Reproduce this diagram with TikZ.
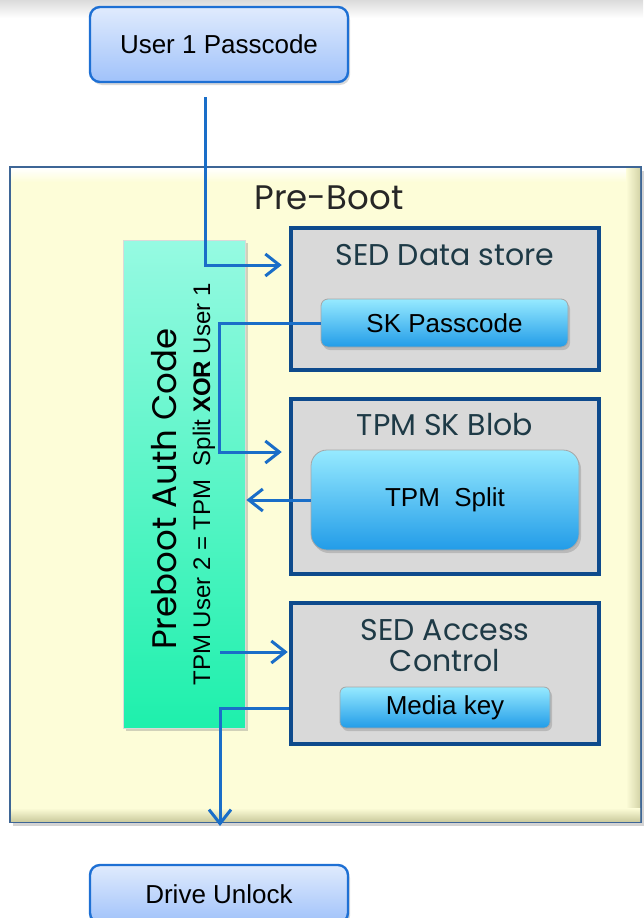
\documentclass[tikz,border=0pt]{standalone}
\usepackage{fontspec}
\setmainfont{Liberation Sans}
\newfontfamily\gothic{Poppins}
\usetikzlibrary{arrows.meta,shadows,calc}
\definecolor{arrowblue}{RGB}{26,110,200}
\definecolor{boxblue}{RGB}{14,74,140}
\definecolor{titlecol}{RGB}{30,58,70}
\definecolor{prebootbg}{RGB}{253,253,216}
\definecolor{prebootedge}{RGB}{62,102,150}
\definecolor{panelgray}{RGB}{217,217,217}
\definecolor{iotop}{RGB}{224,235,253}
\definecolor{iobot}{RGB}{160,194,250}
\definecolor{ioedge}{RGB}{30,112,212}
\definecolor{keytop}{RGB}{150,234,255}
\definecolor{keymid}{RGB}{80,196,248}
\definecolor{keybot}{RGB}{34,156,232}
\definecolor{bartop}{RGB}{150,250,226}
\definecolor{barbot}{RGB}{30,240,172}
\begin{document}
\begin{tikzpicture}[x=1pt,y=-1pt,
  iobox/.style={draw=ioedge, line width=2.4pt, rounded corners=10pt,
    top color=iotop, bottom color=iobot, inner sep=0pt,
    drop shadow={opacity=0.3,shadow xshift=2pt,shadow yshift=-3pt},
    font=\fontsize{26}{30}\selectfont},
  panel/.style={draw=boxblue, line width=4.5pt, fill=panelgray, inner sep=0pt},
  keybox/.style={draw=black!35, line width=0.8pt, top color=keytop, middle color=keymid,
    bottom color=keybot, inner sep=0pt,
    drop shadow={opacity=0.35,shadow xshift=2pt,shadow yshift=-3pt},
    font=\fontsize{26}{30}\selectfont},
  paneltitle/.style={text=titlecol, font=\gothic\fontsize{30}{34}\selectfont, inner sep=0pt},
  conn/.style={draw=arrowblue, line width=3pt, -{Straight Barb[length=14pt,width=22pt]}}
]
\useasboundingbox (0,0) rectangle (643,918);
% faint top shading
\fill[top color=black!14, bottom color=white] (0,0) rectangle (643,18);

% Pre-Boot container
\node[draw=prebootedge, line width=2.2pt, fill=prebootbg, minimum width=631pt, minimum height=655pt,
  inner sep=0pt, drop shadow={opacity=0.35,shadow xshift=3pt,shadow yshift=-4pt}] (pb) at (325.5,494.5) {};
\fill[left color=prebootbg, right color={rgb,255:red,212;green,212;blue,168}] (626,168) rectangle (640,821);
\fill[top color=prebootbg, bottom color={rgb,255:red,205;green,205;blue,160}] (11,808) rectangle (640,821);
\fill[top color=white, bottom color=prebootbg] (11,168) rectangle (626,182);
\node[text=black!85, font=\gothic\fontsize{34}{38}\selectfont, inner sep=0pt] (pbl) at (329,198) {Pre-Boot};

% top and bottom boxes
\node[iobox, minimum width=258pt, minimum height=75pt] (u1) at (219,44.5) {User 1 Passcode};
\node[iobox, minimum width=258pt, minimum height=58pt] (du) at (219,894) {Drive Unlock};

% green bar
\node[draw=black!15, line width=0.8pt, top color=bartop, bottom color=barbot, minimum width=122pt,
  minimum height=488pt, inner sep=0pt,
  drop shadow={opacity=0.35,shadow xshift=3pt,shadow yshift=-3pt}] (bar) at (184,484) {};
\node[rotate=90, font=\gothic\fontsize{34}{38}\selectfont, inner sep=0pt] (pac) at (164,489) {Preboot Auth Code};
\node[rotate=90, font=\fontsize{24}{28}\selectfont, inner sep=0pt] (xor) at (204,484.5)
  {TPM User 2 = TPM\ \ Split \textbf{XOR} User 1};

% panels
\node[panel, minimum width=308pt, minimum height=142pt] (ds) at (445,299) {};
\node[paneltitle] (dst) at (445,255) {SED Data store};
\node[keybox, rounded corners=7pt, minimum width=247pt, minimum height=48pt] (skp) at (444.5,323) {SK Passcode};

\node[panel, minimum width=308pt, minimum height=175pt] (blob) at (445,486.5) {};
\node[paneltitle] (blobt) at (445,425) {TPM SK Blob};
\node[keybox, rounded corners=16pt, minimum width=268pt, minimum height=100pt] (ts) at (445,500) {TPM\ \ Split};

\node[panel, minimum width=308pt, minimum height=141pt] (acc) at (445,673.5) {};
\node[paneltitle, align=center] (acct) at (445,646) {SED Access\\[-3pt]Control};
\node[keybox, rounded corners=6pt, minimum width=210pt, minimum height=41pt] (mk) at (445,707.5) {Media key};

% connectors
\coordinate (u1out) at (205,97);
\coordinate (dsin) at ($(ds.west)+(-7,-34)$);
\draw[conn] (u1out) |- (dsin);

\coordinate (blobin) at ($(blob.west)+(-7,-34.5)$);
\draw[conn] (skp.west) -- ++(-101,0) |- (blobin);

\coordinate (barin) at ($(bar.east|-ts.west)+(1,0)$);
\draw[conn] (ts.west) -- (barin);

\coordinate (xorout) at (220,652);
\draw[conn] (xorout) -- ($(acc.west|-xorout)+(-1,0)$);

\coordinate (accout) at ($(acc.west)+(0,34.5)$);
\coordinate (duin) at (220,826);
\draw[conn] (accout) -| (duin);
\end{tikzpicture}
\end{document}
